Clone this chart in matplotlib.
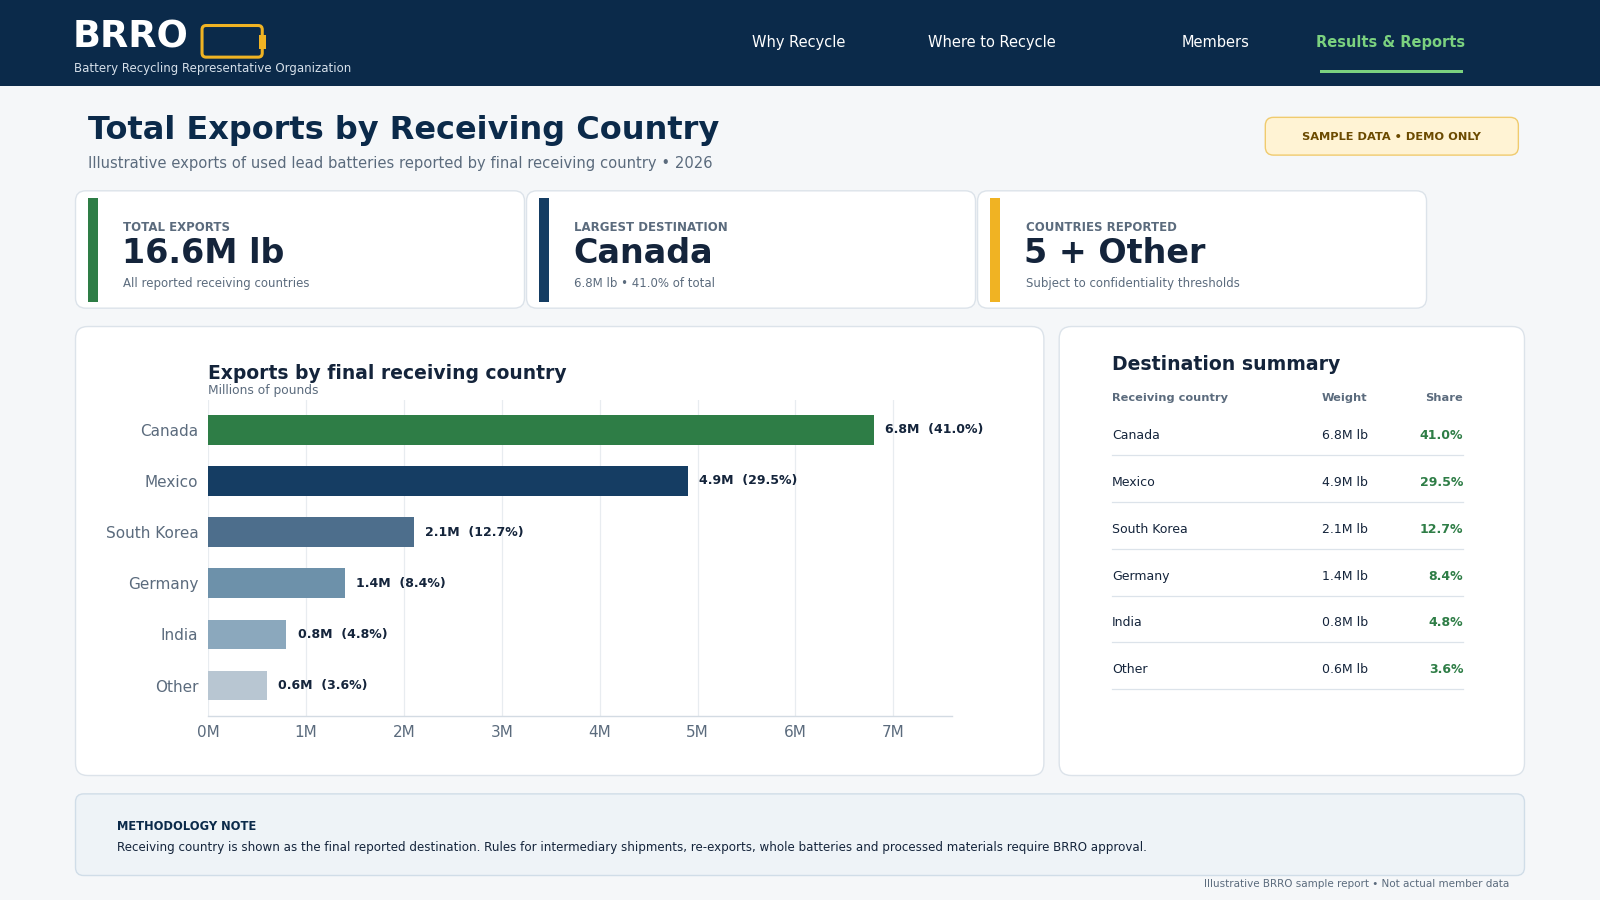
import matplotlib
matplotlib.use("Agg")
import matplotlib.pyplot as plt
from matplotlib.patches import FancyBboxPatch, Rectangle

plt.rcParams['font.family'] = ['DejaVu Sans']

# ---------------- data ----------------
countries = ["Canada", "Mexico", "South Korea", "Germany", "India", "Other"]
export_millions_lb = [6.8, 4.9, 2.1, 1.4, 0.8, 0.6]
share_pct = [41.0, 29.5, 12.7, 8.4, 4.8, 3.6]
bar_colors = ["#2e7d46", "#153d63", "#4d6e8c", "#6d91aa", "#8ba8bd", "#b8c6d2"]
x_ticks = [0, 1, 2, 3, 4, 5, 6, 7]
x_tick_labels = ["0M", "1M", "2M", "3M", "4M", "5M", "6M", "7M"]
nav_items = ["Why Recycle", "Where to Recycle", "Members", "Results & Reports"]

NAVY = "#0b2a4a"
DARK = "#14243b"
GRAY = "#5b6b7d"
GREEN = "#2e7d46"
BORDER = "#dce3ea"

W, H = 1568, 882
fig = plt.figure(figsize=(16, 9), dpi=100)
fig.patch.set_facecolor("#f5f7f9")

bg = fig.add_axes([0, 0, 1, 1])
bg.set_xlim(0, W)
bg.set_ylim(H, 0)
bg.axis("off")


def rbox(x0, y0, x1, y1, fc, ec=None, r=10, lw=1.0, z=1):
    p = FancyBboxPatch((x0, y0), x1 - x0, y1 - y0,
                       boxstyle=f"round,pad=0,rounding_size={r}",
                       fc=fc, ec=ec if ec else "none", lw=lw, zorder=z)
    bg.add_patch(p)


def txt(x, y, s, size, color, weight="normal", ha="left", va="center", **kw):
    bg.text(x, y + 0.8, s, fontsize=size, color=color, fontweight=weight,
            ha=ha, va=va, **kw)


# ---------------- header ----------------
bg.add_patch(Rectangle((0, 0), W, 84, fc=NAVY, ec="none", zorder=1))
txt(71, 35, "BRRO", 26.5, "white", "bold")
rbox(198, 25, 257, 56, "none", "#f0b323", r=4, lw=2.2, z=2)
bg.add_patch(Rectangle((254, 34), 7, 14, fc="#f0b323", ec="none", zorder=3))
txt(73, 66, "Battery Recycling Representative Organization", 8.5, "#d6e0ea")
nav_x = [783, 972, 1191, 1363]
for name, cx in zip(nav_items, nav_x):
    active = name == "Results & Reports"
    txt(cx, 41, name, 10.5, "#7bd17f" if active else "white",
        "bold" if active else "normal", ha="center")
bg.add_patch(Rectangle((1294, 69), 140, 3, fc="#7bd17f", ec="none", zorder=2))

# ---------------- title ----------------
txt(86, 127, "Total Exports by Receiving Country", 23.0, NAVY, "bold")
txt(86, 159, "Illustrative exports of used lead batteries reported by final receiving country \u2022 2026",
    10.6, GRAY)
rbox(1240, 115, 1488, 152, "#fff3d4", "#f0cb6e", r=8, lw=1.0)
txt(1364, 133, "SAMPLE DATA \u2022 DEMO ONLY", 8.2, "#6b4a00", "bold", ha="center")

# ---------------- KPI cards ----------------
total = sum(export_millions_lb)
top_i = max(range(len(countries)), key=lambda i: export_millions_lb[i])
kpis = [
    ("TOTAL EXPORTS", f"{total:.1f}M lb", "All reported receiving countries", GREEN),
    ("LARGEST DESTINATION", countries[top_i],
     f"{export_millions_lb[top_i]:.1f}M lb \u2022 {share_pct[top_i]:.1f}% of total", "#153d63"),
    ("COUNTRIES REPORTED", f"{len(countries) - 1} + Other",
     "Subject to confidentiality thresholds", "#f0b323"),
]
card_x = [74, 516, 958]
for (lab, val, note, col), x0 in zip(kpis, card_x):
    rbox(x0, 187, x0 + 440, 302, "white", BORDER, r=10, lw=1.0)
    bg.add_patch(Rectangle((x0 + 12, 194), 10, 102, fc=col, ec="none", zorder=2))
    txt(x0 + 47, 222, lab, 8.5, GRAY, "bold")
    txt(x0 + 46, 248, val, 24, DARK, "bold")
    txt(x0 + 47, 277, note, 8.5, GRAY)

# ---------------- chart card ----------------
rbox(74, 320, 1023, 760, "white", BORDER, r=12, lw=1.0)
txt(204, 365, "Exports by final receiving country", 13.5, DARK, "bold")
txt(204, 382, "Millions of pounds", 8.8, GRAY)

ax = fig.add_axes([204 / W, 1 - 702 / H, (933 - 204) / W, (702 - 392) / H])
ax.set_facecolor("none")
ypos = list(range(len(countries)))
ax.barh(ypos, export_millions_lb, height=0.58, color=bar_colors, zorder=3)
for y, v, s in zip(ypos, export_millions_lb, share_pct):
    ax.annotate(f"{v:.1f}M  ({s:.1f}%)", xy=(v, y), xytext=(8, 0),
                textcoords="offset points", va="center", ha="left",
                fontsize=9, fontweight="bold", color=DARK)
ax.set_yticks(ypos)
ax.set_yticklabels(countries)
ax.set_xticks(x_ticks)
ax.set_xticklabels(x_tick_labels)
ax.set_xlim(0, 7.6)
ax.set_ylim(5.6, -0.58)
ax.tick_params(axis="y", length=0, pad=7, labelsize=11, labelcolor=GRAY)
ax.tick_params(axis="x", length=0, pad=6, labelsize=11, labelcolor=GRAY)
ax.grid(axis="x", color="#e8ecf0", lw=0.9, zorder=0)
for sp in ["top", "right", "left"]:
    ax.spines[sp].set_visible(False)
ax.spines["bottom"].set_color("#d3dbe3")
ax.spines["bottom"].set_linewidth(1.0)

# ---------------- table card ----------------
rbox(1038, 320, 1494, 760, "white", BORDER, r=12, lw=1.0)
txt(1090, 356, "Destination summary", 13.6, DARK, "bold")
txt(1090, 389, "Receiving country", 8.2, GRAY, "bold")
txt(1340, 389, "Weight", 8.2, GRAY, "bold", ha="right")
txt(1434, 389, "Share", 8.2, GRAY, "bold", ha="right")
row_y0, row_dy = 426, 45.9
for i, (c, v, s) in enumerate(zip(countries, export_millions_lb, share_pct)):
    yy = row_y0 + i * row_dy
    txt(1090, yy, c, 9, DARK)
    txt(1341, yy, f"{v:.1f}M lb", 9, DARK, ha="right")
    txt(1434, yy, f"{s:.1f}%", 9, GREEN, "bold", ha="right")
    bg.plot([1090, 1434], [yy + 20, yy + 20], color=BORDER, lw=0.9, zorder=2)

# ---------------- methodology note ----------------
rbox(74, 778, 1494, 858, "#eef3f7", "#d0dde8", r=8, lw=1.0)
txt(115, 809, "METHODOLOGY NOTE", 8.3, NAVY, "bold")
txt(115, 830, "Receiving country is shown as the final reported destination. Rules for intermediary "
    "shipments, re-exports, whole batteries and processed materials require BRRO approval.",
    8.55, DARK)
txt(1479, 866, "Illustrative BRRO sample report \u2022 Not actual member data", 7.45, GRAY, ha="right")

fig.savefig("out.png", dpi=100, facecolor=fig.get_facecolor())
